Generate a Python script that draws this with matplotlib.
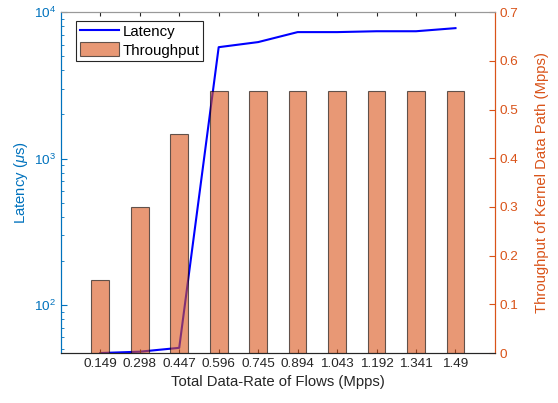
import matplotlib
matplotlib.use("Agg")
import matplotlib.pyplot as plt
import numpy as np
from matplotlib.ticker import FuncFormatter, LogLocator

plt.rcParams["font.family"] = ["Liberation Sans", "DejaVu Sans"]
plt.rcParams["mathtext.fontset"] = "custom"
plt.rcParams["mathtext.it"] = "Liberation Sans:italic"

# data
rates = ["0.149", "0.298", "0.447", "0.596", "0.745", "0.894",
         "1.043", "1.192", "1.341", "1.49"]
latency_us = [47, 48, 51, 5760, 6240, 7300, 7300, 7400, 7400, 7770]
throughput_mpps = [0.15, 0.30, 0.45, 0.538, 0.538, 0.538, 0.538, 0.538, 0.538, 0.538]

C_LEFT = "#0072BD"
C_RIGHT = "#D95319"
C_AX = "#262626"

fig = plt.figure(figsize=(5.58, 4.03), dpi=100)
ax = fig.add_axes([0.109, 0.124, 0.778, 0.846])
ax2 = ax.twinx()

x = np.arange(1, len(rates) + 1)

# latency (left, log)
ln, = ax.plot(x, latency_us, color="#0000FF", lw=1.5, label="Latency", zorder=1)
ax.set_yscale("log")
ax.set_ylim(47, 1e4)
ax.set_xlim(0, len(rates) + 1)
ax.yaxis.set_major_locator(LogLocator(base=10, numticks=10))
ax.yaxis.set_minor_locator(LogLocator(base=10, subs=np.arange(2, 10), numticks=10))
ax.set_ylabel(r"Latency ($\mu$s)", color=C_LEFT, fontsize=10.7, labelpad=3)

# throughput (right, bars drawn on top, semi-transparent)
bars = ax2.bar(x, throughput_mpps, width=0.45, color=C_RIGHT, alpha=0.6,
               edgecolor="black", linewidth=0.8, label="Throughput")
ax2.set_ylim(0, 0.7)
ax2.set_yticks(np.arange(0, 0.71, 0.1))
ax2.yaxis.set_major_formatter(FuncFormatter(lambda v, p: f"{v:g}" if v else "0"))
ax2.set_ylabel("Throughput of Kernel Data Path (Mpps)", color=C_RIGHT,
               fontsize=10.7, labelpad=12)

ax.set_xticks(x)
ax.set_xticklabels(rates)
ax.set_xlabel("Total Data-Rate of Flows (Mpps)", color=C_AX, fontsize=10.7)

for a in (ax, ax2):
    a.tick_params(which="both", direction="in", labelsize=9.7)
ax.tick_params(axis="x", top=True, colors=C_AX, length=3)
ax.tick_params(axis="y", which="both", colors=C_LEFT)
ax.tick_params(axis="y", which="major", length=4)
ax.tick_params(axis="y", which="minor", length=2.5)
ax2.tick_params(axis="y", colors=C_RIGHT, length=4)

for a in (ax, ax2):
    a.spines["left"].set_color(C_LEFT)
    a.spines["right"].set_color(C_RIGHT)
    a.spines["top"].set_color("#999999")
    a.spines["bottom"].set_color(C_AX)
    for s in a.spines.values():
        s.set_linewidth(0.8)

leg = ax2.legend([ln, bars], ["Latency", "Throughput"], loc="upper left",
                 bbox_to_anchor=(0.035, 0.975), fontsize=10.8, fancybox=False,
                 edgecolor=C_AX, framealpha=1, borderpad=0.25,
                 handlelength=2.6, handleheight=1.05, handletextpad=0.25,
                 labelspacing=0.2, borderaxespad=0)
leg.get_frame().set_linewidth(0.8)

fig.savefig("out.png", dpi=100)
